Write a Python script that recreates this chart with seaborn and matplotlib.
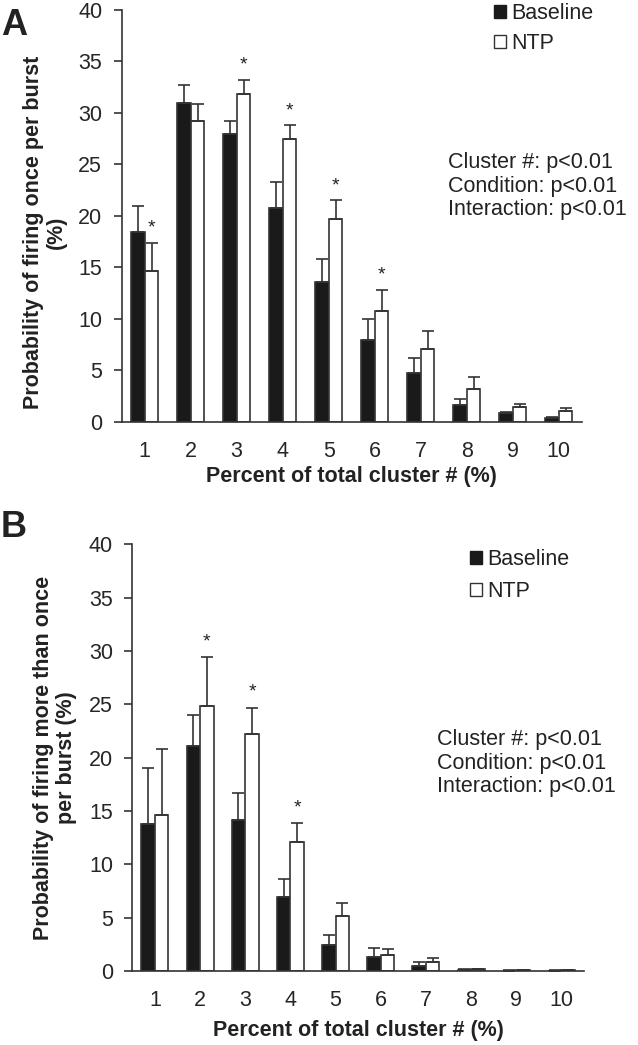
import numpy as np
import pandas as pd
import matplotlib
matplotlib.use("Agg")
import matplotlib.pyplot as plt
from matplotlib.patches import Patch
import seaborn as sns

# values (mean, upper error), clusters 1..10
clusters = ["1", "2", "3", "4", "5", "6", "7", "8", "9", "10"]

a_base = [18.4, 31.0, 28.0, 20.8, 13.6, 7.9, 4.7, 1.6, 0.85, 0.4]
a_base_err = [2.6, 1.7, 1.2, 2.5, 2.2, 2.1, 1.5, 0.6, 0.1, 0.05]
a_ntp = [14.6, 29.2, 31.8, 27.5, 19.7, 10.8, 7.1, 3.2, 1.4, 1.05]
a_ntp_err = [2.8, 1.7, 1.4, 1.3, 1.8, 2.0, 1.7, 1.1, 0.3, 0.25]
a_sig = ["1", "3", "4", "5", "6"]

b_base = [13.8, 21.1, 14.2, 6.9, 2.4, 1.3, 0.45, 0.1, 0.04, 0.03]
b_base_err = [5.2, 2.9, 2.5, 1.7, 1.0, 0.85, 0.35, 0.05, 0.02, 0.02]
b_ntp = [14.6, 24.8, 22.2, 12.1, 5.2, 1.5, 0.85, 0.15, 0.05, 0.07]
b_ntp_err = [6.2, 4.6, 2.5, 1.8, 1.2, 0.6, 0.35, 0.05, 0.02, 0.03]
b_sig = ["2", "3", "4"]

stats_text = "Cluster #: p<0.01\nCondition: p<0.01\nInteraction: p<0.01"

sns.set_style("white")
plt.rcParams["font.family"] = ["Liberation Sans", "DejaVu Sans"]
plt.rcParams["text.color"] = "#222222"
plt.rcParams["axes.labelcolor"] = "#222222"

FS = 15.5
DARK = "#1a1a1a"
LINE = "#333333"
palette = {"Baseline": DARK, "NTP": "white"}

fig = plt.figure(figsize=(6.38, 10.45), dpi=100)
ax_a = fig.add_axes([0.1907, 0.5965, 0.7210, 0.3939])
ax_b = fig.add_axes([0.2074, 0.0708, 0.7080, 0.4083])


def draw_panel(ax, base, base_err, ntp, ntp_err, sig, ylabel, label_xy,
               xlabel_pad, leg_anchor, leg_spacing, stats_xy):
    df = pd.DataFrame({
        "cluster": clusters * 2,
        "value": base + ntp,
        "condition": ["Baseline"] * len(clusters) + ["NTP"] * len(clusters),
    })
    sns.barplot(data=df, x="cluster", y="value", hue="condition",
                hue_order=["Baseline", "NTP"], palette=palette,
                edgecolor=LINE, linewidth=1.2, width=0.6,
                errorbar=None, legend=False, ax=ax)

    # one-sided error bars on top of each bar
    ntp_x = []
    for cont, errs in zip(ax.containers, [base_err, ntp_err]):
        xs = [p.get_x() + p.get_width() / 2 for p in cont.patches]
        hs = [p.get_height() for p in cont.patches]
        ax.errorbar(xs, hs, yerr=[np.zeros(len(errs)), errs], fmt="none",
                    ecolor=LINE, elinewidth=1.2, capsize=4.6, capthick=1.2,
                    zorder=1)
        ntp_x = xs

    for c in sig:
        i = clusters.index(c)
        ax.text(ntp_x[i], ntp[i] + ntp_err[i] + 1.0, "*", ha="center",
                va="baseline", fontsize=14)

    ax.set_xlim(-0.5, 9.5)
    ax.set_ylim(0, 40)
    ax.set_yticks(range(0, 41, 5))
    sns.despine(ax=ax)
    for s in ["left", "bottom"]:
        ax.spines[s].set_color(LINE)
        ax.spines[s].set_linewidth(1.2)
    ax.tick_params(axis="y", direction="out", length=6, width=1.2,
                   color=LINE, pad=8, labelsize=FS, left=True)
    ax.tick_params(axis="x", length=0, pad=14, labelsize=FS)
    ax.set_xlabel("Percent of total cluster # (%)", fontsize=FS,
                  fontweight="bold", labelpad=xlabel_pad)
    ax.set_ylabel(ylabel, fontsize=FS, fontweight="bold", linespacing=1.15)
    ax.yaxis.set_label_coords(*label_xy)

    handles = [Patch(facecolor=DARK, edgecolor=DARK, label="Baseline"),
               Patch(facecolor="white", edgecolor=LINE, label="NTP")]
    ax.legend(handles=handles, loc="upper left", bbox_to_anchor=leg_anchor,
              frameon=False, fontsize=FS, handlelength=0.55,
              handleheight=0.55, handletextpad=0.25, labelspacing=leg_spacing,
              borderpad=0, borderaxespad=0)

    ax.text(stats_xy[0], stats_xy[1], stats_text, transform=ax.transAxes,
            ha="left", va="top", fontsize=FS, linespacing=1.16)


draw_panel(ax_a, a_base, a_base_err, a_ntp, a_ntp_err, a_sig,
           "Probability of firing once per burst\n(%)", (-0.119, 0.46), 3,
           (0.81, 1.017), 0.4, (0.709, 0.655))
draw_panel(ax_b, b_base, b_base_err, b_ntp, b_ntp_err, b_sig,
           "Probability of firing more than once\nper burst (%)",
           (-0.122, 0.5), 6, (0.748, 0.989), 0.5, (0.675, 0.567))

fig.text(1 / 638, 1 - 35 / 1045, "A", fontsize=26, fontweight="bold",
         va="baseline", ha="left")
fig.text(1 / 638, 1 - 537 / 1045, "B", fontsize=26, fontweight="bold",
         va="baseline", ha="left")

fig.savefig("out.png", dpi=100)
